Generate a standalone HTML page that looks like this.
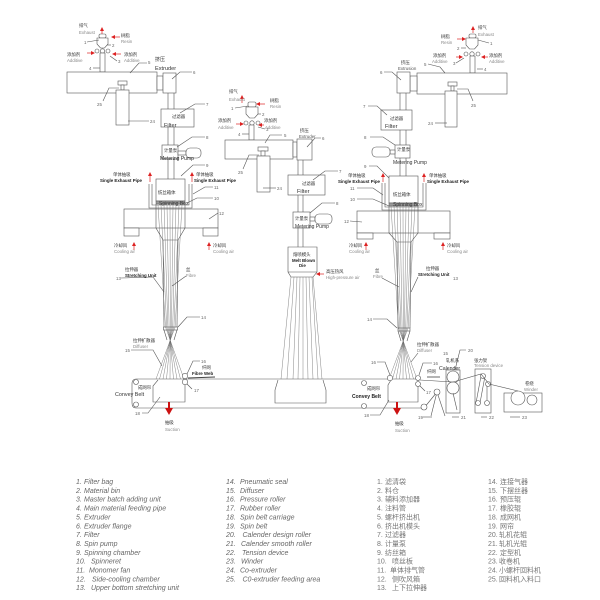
<!DOCTYPE html>
<html><head><meta charset="utf-8"><style>
html,body{margin:0;padding:0;background:#fff;}
svg{display:block;}
.l{stroke:#555;stroke-width:0.6;fill:none;}
.w{stroke:#555;stroke-width:0.6;fill:#fff;}
.fb{stroke:#666;stroke-width:0.4;fill:none;}
text{font-family:"Liberation Sans","Noto Sans CJK SC",sans-serif;}
.c{font-size:4.4px;fill:#333;}
.e{font-size:4.4px;fill:#888;}
.b{font-size:4.4px;fill:#222;font-weight:bold;}
.n{font-size:4.4px;fill:#666;}
.m{font-size:5.6px;fill:#333;}
.lg{font-size:7px;fill:#666;font-style:italic;}
.lc{font-size:7px;fill:#777;}
.ra{stroke:#d22;stroke-width:0.7;fill:none;}
.rb{stroke:#c11;stroke-width:2;fill:none;}
</style></head><body>
<svg width="600" height="600" viewBox="0 0 600 600" xmlns="http://www.w3.org/2000/svg">
<defs>
<marker id="ah" markerWidth="4" markerHeight="4" refX="3" refY="2" orient="auto" markerUnits="userSpaceOnUse"><path d="M0,0 L4,2 L0,4 z" fill="#d22"/></marker>
<marker id="bh" markerWidth="8" markerHeight="8" refX="5" refY="4" orient="auto" markerUnits="userSpaceOnUse"><path d="M0,0 L7,4 L0,8 z" fill="#c11"/></marker>
</defs>
<rect width="600" height="600" fill="#fff"/>

<!-- ================= LEFT UNIT ================= -->
<line class="l" x1="168" y1="93" x2="168" y2="179"/>
<line class="l" x1="174" y1="93" x2="174" y2="179"/>
<rect class="w" x="99" y="34" width="7" height="4" rx="1.5"/>
<path class="w" d="M97,38 L108,38 L108,44 L104.5,48 L100.5,48 L97,44 Z"/>
<circle class="w" cx="97" cy="51" r="2"/><circle class="w" cx="102.5" cy="51" r="2.2"/><circle class="w" cx="108" cy="51" r="2"/>
<rect class="w" x="100" y="53" width="5" height="19"/>
<rect class="w" x="67" y="72" width="90" height="21"/>
<rect class="w" x="157" y="76" width="6" height="14"/>
<rect class="w" x="163" y="73" width="13" height="20"/>
<rect class="w" x="118" y="81" width="9" height="4"/>
<rect class="w" x="121" y="85" width="3" height="5"/>
<rect class="w" x="116" y="90" width="13" height="35"/>
<rect class="w" x="161" y="109" width="33" height="18"/>
<rect class="w" x="162" y="145" width="16" height="14"/>
<rect class="w" x="178" y="151" width="8" height="4"/>
<rect class="w" x="186" y="148" width="15" height="10" rx="4"/>
<path class="l" d="M149,184 L149,208 L192,208 L192,184"/>
<path class="l" d="M152,184 L152,205 L189,205 L189,184"/>
<rect class="w" x="156" y="179" width="29" height="22"/>
<rect x="156" y="201" width="29" height="3" fill="#999" stroke="#555" stroke-width="0.5"/>
<rect class="w" x="124" y="209" width="94" height="19"/>
<rect class="w" x="124" y="228" width="15" height="8"/>
<rect class="w" x="203" y="228" width="15" height="8"/>
<path class="l" d="M156,204 L156,228 L163,240 L178,240 L185,228 L185,204"/>
<line class="l" x1="163" y1="240" x2="164" y2="327"/>
<line class="l" x1="178" y1="240" x2="177" y2="327"/>
<rect class="w" x="163.5" y="327" width="14" height="3"/>
<path class="l" d="M164,330 L167,340 M177,330 L174,340"/>
<g class="fb">
<polyline points="158,205 165.5,327 184,379"/>
<polyline points="161,205 166.7,327 180.5,379"/>
<polyline points="164,205 167.9,327 177,379"/>
<polyline points="167,205 169.1,327 173.5,379"/>
<polyline points="170,205 170.3,327 170,379"/>
<polyline points="173,205 171.5,327 166.5,379"/>
<polyline points="176,205 172.7,327 163,379"/>
<polyline points="179,205 173.9,327 159.5,379"/>
<polyline points="182,205 175.1,327 156,379"/>
</g>

<!-- ================= MIDDLE UNIT ================= -->
<line class="l" x1="298" y1="159" x2="298" y2="247"/>
<line class="l" x1="303" y1="159" x2="303" y2="247"/>
<rect class="w" x="248" y="102" width="8" height="5" rx="1.5"/>
<path class="w" d="M246,107 L258,107 L258,114 L254.5,118 L249.5,118 L246,114 Z"/>
<circle class="w" cx="246" cy="123" r="2"/><circle class="w" cx="252" cy="123" r="2.2"/><circle class="w" cx="258" cy="123" r="2"/>
<rect class="w" x="249" y="125" width="5" height="15"/>
<rect class="w" x="225" y="140" width="68" height="19"/>
<rect class="w" x="293" y="142" width="4" height="15"/>
<rect class="w" x="297" y="139" width="15" height="21"/>
<rect class="w" x="258" y="147" width="10" height="4"/>
<rect class="w" x="261" y="151" width="4" height="5"/>
<rect class="w" x="257" y="156" width="13" height="36"/>
<rect class="w" x="288" y="175" width="37" height="20"/>
<rect class="w" x="293" y="212" width="17" height="16"/>
<rect class="w" x="310" y="217" width="5" height="4"/>
<rect class="w" x="315" y="214" width="17" height="10" rx="4"/>
<path class="w" d="M288,247 L317,247 L317,272 L313,277 L291,277 L288,272 Z"/>
<line class="l" x1="288" y1="272" x2="317" y2="272"/>
<g class="fb">
<line x1="291" y1="277" x2="281" y2="379"/>
<line x1="294" y1="277" x2="287" y2="379"/>
<line x1="297" y1="277" x2="293" y2="379"/>
<line x1="300" y1="277" x2="298" y2="379"/>
<line x1="303" y1="277" x2="303" y2="379"/>
<line x1="306" y1="277" x2="308" y2="379"/>
<line x1="309" y1="277" x2="313" y2="379"/>
<line x1="312" y1="277" x2="318" y2="379"/>
<line x1="313" y1="277" x2="322" y2="379"/>
</g>

<!-- ================= RIGHT UNIT ================= -->
<line class="l" x1="400" y1="93" x2="400" y2="176"/>
<line class="l" x1="406" y1="93" x2="406" y2="176"/>
<rect class="w" x="469" y="34" width="7" height="4" rx="1.5"/>
<path class="w" d="M466,38 L478,38 L478,45 L474.5,49 L469.5,49 L466,45 Z"/>
<circle class="w" cx="466" cy="54" r="2"/><circle class="w" cx="472" cy="54" r="2.2"/><circle class="w" cx="478" cy="54" r="2"/>
<rect class="w" x="470" y="56" width="5" height="17"/>
<rect class="w" x="417" y="73" width="90" height="21"/>
<rect class="w" x="410" y="76" width="7" height="15"/>
<rect class="w" x="397" y="72" width="13" height="21"/>
<rect class="w" x="448" y="82" width="9" height="4"/>
<rect class="w" x="451" y="86" width="3" height="5"/>
<rect class="w" x="445" y="91" width="12" height="36"/>
<rect class="w" x="381" y="110" width="31" height="20"/>
<rect class="w" x="395" y="145" width="15" height="13"/>
<rect class="w" x="390" y="150" width="5" height="4"/>
<rect class="w" x="372" y="147" width="18" height="10" rx="4"/>
<path class="l" d="M382,183 L382,210 L426,210 L426,183"/>
<path class="l" d="M385,183 L385,207 L423,207 L423,183"/>
<rect class="w" x="389" y="176" width="29" height="27"/>
<rect x="389" y="203" width="29" height="3" fill="#999" stroke="#555" stroke-width="0.5"/>
<rect class="w" x="357" y="211" width="93" height="22"/>
<rect class="w" x="357" y="233" width="16" height="6"/>
<rect class="w" x="434" y="233" width="16" height="6"/>
<path class="l" d="M389,206 L389,233 L397,242 L411,242 L418,233 L418,206"/>
<line class="l" x1="397" y1="242" x2="398" y2="328"/>
<line class="l" x1="411" y1="242" x2="410" y2="328"/>
<rect class="w" x="398" y="328" width="12" height="3"/>
<path class="l" d="M398,331 L401,341 M410,331 L407,341"/>
<g class="fb">
<polyline points="391,206 398.5,328 417,379"/>
<polyline points="394,206 399.7,328 413.5,379"/>
<polyline points="397,206 400.9,328 410,379"/>
<polyline points="400,206 402.1,328 406.5,379"/>
<polyline points="403,206 403.3,328 403,379"/>
<polyline points="406,206 404.5,328 399.5,379"/>
<polyline points="409,206 405.7,328 396,379"/>
<polyline points="412,206 406.9,328 392.5,379"/>
<polyline points="415,206 408.1,328 389,379"/>
</g>

<!-- ================= BELT & DOWNSTREAM ================= -->
<line class="l" x1="136" y1="379" x2="418" y2="379"/>
<line class="l" x1="136" y1="408" x2="424" y2="408"/>
<path class="l" d="M136,379 Q132,379 132,384 L132,403 Q132,408 136,408"/>
<circle class="w" cx="136" cy="382" r="2.5"/><circle class="w" cx="136" cy="404.5" r="2.5"/>
<path class="w" d="M158,380 L153,386 L153,402 L185,402 L185,380"/>
<circle class="w" cx="185" cy="376" r="2.7"/><circle class="w" cx="185" cy="382" r="2.7"/>
<line stroke="#444" stroke-width="1" x1="188" y1="378" x2="215" y2="377"/>
<path class="w" d="M278,380 L275,390 L275,403 L326,403 L326,390 L323,380"/>
<circle class="w" cx="364" cy="383" r="2.5"/><circle class="w" cx="364" cy="406" r="2.5"/>
<path class="w" d="M391,380 L388,385 L388,402 L418,402 L418,380"/>
<circle class="w" cx="390" cy="378" r="2.7"/>
<circle class="w" cx="418" cy="378" r="2.5"/><circle class="w" cx="418" cy="384" r="2.5"/>
<line class="l" x1="424" y1="408" x2="437" y2="392"/>
<line class="l" x1="437" y1="392" x2="431" y2="416"/>
<line class="l" x1="437" y1="392" x2="445" y2="416"/>
<circle class="w" cx="437" cy="392" r="3"/><circle class="w" cx="424" cy="407" r="3"/>
<line stroke="#444" stroke-width="0.8" x1="427" y1="377" x2="440" y2="377"/>
<rect class="w" x="446" y="370" width="14" height="43"/>
<circle class="w" cx="453" cy="377" r="6"/><circle class="w" cx="453" cy="388" r="6"/>
<line class="l" x1="453" y1="393" x2="457" y2="410"/>
<rect class="w" x="475" y="369" width="16" height="44"/>
<line class="l" x1="481" y1="376" x2="476" y2="403"/>
<line class="l" x1="485" y1="376" x2="480" y2="403"/>
<line class="l" x1="487" y1="384" x2="487" y2="403"/>
<circle class="w" cx="483" cy="376" r="2.5"/><circle class="w" cx="488" cy="384" r="2.5"/>
<circle class="w" cx="478" cy="403" r="2.5"/><circle class="w" cx="487" cy="403" r="2.5"/>
<rect class="w" x="504" y="393" width="38" height="19"/>
<circle class="w" cx="518" cy="398" r="7"/><circle class="w" cx="532" cy="400" r="5"/>
<polyline class="l" points="420,380 453,382 481,374 489,384 518,391"/>

<!-- red arrows -->
<line class="ra" x1="102" y1="34" x2="102" y2="28" marker-end="url(#ah)"/>
<line class="ra" x1="120" y1="37" x2="112" y2="37" marker-end="url(#ah)"/>
<line class="ra" x1="87" y1="53" x2="94" y2="53" marker-end="url(#ah)"/>
<line class="ra" x1="121" y1="54" x2="113" y2="54" marker-end="url(#ah)"/>
<line class="ra" x1="150" y1="182" x2="150" y2="173" marker-end="url(#ah)"/>
<line class="ra" x1="192" y1="182" x2="192" y2="173" marker-end="url(#ah)"/>
<line class="ra" x1="134" y1="250" x2="134" y2="243" marker-end="url(#ah)"/>
<line class="ra" x1="209" y1="250" x2="209" y2="243" marker-end="url(#ah)"/>
<line class="ra" x1="242" y1="103" x2="242" y2="96" marker-end="url(#ah)"/>
<line class="ra" x1="265" y1="104" x2="257" y2="104" marker-end="url(#ah)"/>
<line class="ra" x1="236" y1="124" x2="243" y2="124" marker-end="url(#ah)"/>
<line class="ra" x1="264" y1="125" x2="259" y2="125" marker-end="url(#ah)"/>
<line class="ra" x1="324" y1="274" x2="317" y2="274" marker-end="url(#ah)"/>
<line class="ra" x1="473" y1="33" x2="473" y2="27" marker-end="url(#ah)"/>
<line class="ra" x1="457" y1="39" x2="465" y2="39" marker-end="url(#ah)"/>
<line class="ra" x1="456" y1="57" x2="462" y2="57" marker-end="url(#ah)"/>
<line class="ra" x1="488" y1="57" x2="482" y2="57" marker-end="url(#ah)"/>
<line class="ra" x1="383" y1="182" x2="383" y2="174" marker-end="url(#ah)"/>
<line class="ra" x1="424" y1="182" x2="424" y2="174" marker-end="url(#ah)"/>
<line class="ra" x1="366" y1="250" x2="366" y2="243" marker-end="url(#ah)"/>
<line class="ra" x1="443" y1="250" x2="443" y2="243" marker-end="url(#ah)"/>
<line class="rb" x1="169" y1="402" x2="169" y2="413" marker-end="url(#bh)"/>
<line class="rb" x1="397" y1="402" x2="397" y2="413" marker-end="url(#bh)"/>

<!-- leader lines -->
<g class="l">
<polyline points="87,42 99,40"/><polyline points="107,45 111,45"/><polyline points="110,56 117,61"/><polyline points="93,68 100,68"/>
<polyline points="130,73 139,63 147,63"/><polyline points="172,79 180,72 192,72"/>
<polyline points="103,101 109,88 119,88"/><polyline points="128,121 149,121"/>
<polyline points="180,113 195,104 205,104"/><polyline points="177,147 192,137 205,137"/><polyline points="181,176 193,165 205,165"/>
<polyline points="193,194 205,187 213,187"/><polyline points="187,203 197,198 213,198"/><polyline points="209,219 218,213"/>
<polyline points="121,278 153,277 164,292"/><polyline points="186,276 172,286"/><polyline points="178,327 187,317 200,317"/>
<polyline points="131,350 153,350 162,366"/><polyline points="187,374 193,361 200,361"/><polyline points="187,384 192,389"/>
<polyline points="142,413 148,413 160,397"/>
<polyline points="235,108 248,106"/><polyline points="258,114 261,114"/><polyline points="258,127 265,129"/><polyline points="242,134 249,134"/>
<polyline points="265,143 270,135 282,135"/><polyline points="307,147 315,138 321,138"/>
<polyline points="243,169 249,155 259,155"/><polyline points="263,188 276,188"/>
<polyline points="313,180 325,171 338,171"/><polyline points="310,213 322,203 335,203"/>
<polyline points="478,40 489,43"/><polyline points="461,48 466,48"/><polyline points="456,63 464,58"/><polyline points="477,69 483,69"/>
<polyline points="428,64 440,67 445,73"/><polyline points="384,72 392,72 401,80"/>
<polyline points="457,89 468,89 473,101"/><polyline points="435,123 447,123"/>
<polyline points="368,106 377,106 387,115"/><polyline points="370,137 383,137 395,145"/><polyline points="369,166 377,166 389,178"/>
<polyline points="357,188 373,188 383,195"/><polyline points="357,199 373,199 389,206"/><polyline points="350,221 362,222"/>
<polyline points="382,278 399,287"/><polyline points="418,277 411,292"/><polyline points="373,319 387,319 397,328"/>
<polyline points="411,362 418,353"/><polyline points="377,362 385,362 390,375"/><polyline points="432,363 423,363 419,375"/>
<polyline points="466,350 460,350 455,370"/><polyline points="420,386 425,391"/>
<polyline points="370,415 380,415 389,400"/><polyline points="423,417 432,417"/>
<polyline points="452,417 459,417"/><polyline points="481,417 487,417"/><polyline points="510,417 520,417"/>
</g>

<!-- ===== LEFT TEXT ===== -->
<text class="c" x="79" y="27">排气</text><text class="e" x="79" y="34">Exhaust</text>
<text class="c" x="121" y="37">树脂</text><text class="e" x="121" y="43">Resin</text>
<text class="n" x="84" y="44">1</text><text class="n" x="112" y="47">2</text>
<text class="c" x="67" y="56">添加剂</text><text class="e" x="67" y="62">Additive</text>
<text class="c" x="124" y="56">添加剂</text><text class="e" x="124" y="62">Additive</text>
<text class="n" x="118" y="63">3</text><text class="n" x="89" y="70">4</text>
<text class="c" x="155" y="61" style="font-size:5px">挤压</text><text class="m" x="155" y="70">Extruder</text>
<text class="n" x="148" y="64">5</text><text class="n" x="193" y="74">6</text>
<text class="n" x="97" y="106">25</text><text class="n" x="150" y="123">24</text>
<text class="c" x="172" y="118">过滤器</text><text class="m" x="164" y="127">Filter</text>
<text class="n" x="206" y="106">7</text>
<text class="c" x="164" y="152">计量泵</text><text class="b" x="160" y="160" style="font-size:5px;font-weight:normal">Metering Pump</text>
<text class="n" x="206" y="139">8</text><text class="n" x="206" y="167">9</text>
<text class="c" x="113" y="176">单体抽吸</text><text class="b" x="100" y="182">Single Exhaust Pipe</text>
<text class="c" x="196" y="176">单体抽吸</text><text class="b" x="194" y="182">Single Exhaust Pipe</text>
<text class="c" x="158" y="194">纺丝箱体</text><text class="c" x="159" y="205" style="font-size:5px">Spinning Box</text>
<text class="n" x="214" y="189">11</text><text class="n" x="214" y="200">10</text><text class="n" x="219" y="215">12</text>
<text class="c" x="114" y="247">冷却风</text><text class="e" x="114" y="253">Cooling air</text>
<text class="c" x="213" y="247">冷却风</text><text class="e" x="213" y="253">Cooling air</text>
<text class="c" x="125" y="271">拉伸器</text><text class="b" x="125" y="277">Stretching Unit</text>
<text class="n" x="116" y="280">13</text>
<text class="c" x="186" y="271">丝</text><text class="e" x="186" y="277">Fibre</text>
<text class="n" x="201" y="319">14</text>
<text class="c" x="133" y="342">拉伸扩散器</text><text class="e" x="133" y="348">Diffuser</text>
<text class="n" x="125" y="352">15</text>
<text class="n" x="201" y="363">16</text>
<text class="c" x="202" y="369">纤网</text><text class="b" x="192" y="375">Fibre Web</text>
<text class="n" x="194" y="392">17</text>
<text class="c" x="138" y="389">成网帘</text><text class="m" x="115" y="396" style="font-size:5.4px">Convey Belt</text>
<text class="n" x="135" y="415">18</text>
<text class="c" x="165" y="424">抽吸</text><text class="e" x="165" y="431">Suction</text>

<!-- ===== MIDDLE TEXT ===== -->
<text class="c" x="229" y="93">排气</text><text class="e" x="229" y="101">Exhaust</text>
<text class="c" x="270" y="102">树脂</text><text class="e" x="270" y="108">Resin</text>
<text class="n" x="231" y="110">1</text><text class="n" x="262" y="116">2</text>
<text class="c" x="218" y="122">添加剂</text><text class="e" x="218" y="129">Additive</text>
<text class="c" x="264" y="122">添加剂</text><text class="e" x="265" y="129">Additive</text>
<text class="n" x="266" y="131">3</text><text class="n" x="238" y="136">4</text>
<text class="c" x="300" y="132">挤压</text><text class="e" x="299" y="138" style="fill:#555">Extruder</text>
<text class="n" x="284" y="137">5</text><text class="n" x="322" y="140">6</text>
<text class="n" x="238" y="174">25</text><text class="n" x="277" y="190">24</text>
<text class="c" x="302" y="185">过滤器</text><text class="m" x="297" y="193">Filter</text>
<text class="n" x="339" y="173">7</text>
<text class="c" x="295" y="220">计量泵</text><text class="c" x="295" y="228" style="font-size:5px">Metering Pump</text>
<text class="n" x="336" y="205">8</text>
<text class="c" x="293" y="256">熔喷模头</text><text class="b" x="292" y="262">Melt Blown</text><text class="b" x="299" y="267">Die</text>
<text class="c" x="326" y="273">高压热风</text><text class="e" x="326" y="279">High-pressure air</text>

<!-- ===== RIGHT TEXT ===== -->
<text class="c" x="478" y="29">排气</text><text class="e" x="478" y="36">Exhaust</text>
<text class="c" x="441" y="38">树脂</text><text class="e" x="441" y="44">Resin</text>
<text class="n" x="490" y="45">1</text><text class="n" x="457" y="50">2</text>
<text class="c" x="433" y="57">添加剂</text><text class="e" x="432" y="63">Additive</text>
<text class="c" x="489" y="57">添加剂</text><text class="e" x="489" y="63">Additive</text>
<text class="n" x="453" y="65">3</text><text class="n" x="484" y="71">4</text>
<text class="c" x="401" y="64">挤压</text><text class="e" x="398" y="70" style="fill:#555">Extrusion</text>
<text class="n" x="424" y="66">5</text><text class="n" x="380" y="74">6</text>
<text class="n" x="471" y="107">25</text><text class="n" x="428" y="125">24</text>
<text class="c" x="390" y="120">过滤器</text><text class="m" x="385" y="128">Filter</text>
<text class="n" x="363" y="108">7</text>
<text class="c" x="397" y="151">计量泵</text><text class="c" x="393" y="164" style="font-size:5px">Metering Pump</text>
<text class="n" x="364" y="139">8</text><text class="n" x="364" y="168">9</text>
<text class="c" x="348" y="177">单体抽吸</text><text class="b" x="338" y="183">Single Exhaust Pipe</text>
<text class="c" x="429" y="177">单体抽吸</text><text class="b" x="427" y="183">Single Exhaust Pipe</text>
<text class="c" x="393" y="196">纺丝箱体</text><text class="c" x="393" y="206" style="font-size:5px">Spinning Box</text>
<text class="n" x="350" y="190">11</text><text class="n" x="350" y="201">10</text><text class="n" x="344" y="223">12</text>
<text class="c" x="349" y="247">冷却风</text><text class="e" x="349" y="253">Cooling air</text>
<text class="c" x="447" y="247">冷却风</text><text class="e" x="447" y="253">Cooling air</text>
<text class="c" x="375" y="272">丝</text><text class="e" x="373" y="278">Fibre</text>
<text class="c" x="426" y="270">拉伸器</text><text class="b" x="418" y="276">Stretching Unit</text>
<text class="n" x="453" y="280">13</text>
<text class="n" x="367" y="321">14</text>
<text class="c" x="417" y="346">拉伸扩散器</text><text class="e" x="417" y="352">Diffuser</text>
<text class="n" x="443" y="355">15</text>
<text class="n" x="371" y="364">16</text><text class="n" x="433" y="365">16</text>
<text class="c" x="427" y="373">纤网</text>
<text class="c" x="446" y="362">轧机系</text><text class="m" x="439" y="370" style="font-size:5.2px">Calender</text>
<text class="n" x="468" y="352">20</text>
<text class="n" x="426" y="394">17</text>
<text class="c" x="474" y="362">张力架</text><text class="e" x="474" y="367">Tension device</text>
<text class="c" x="525" y="385">卷绕</text><text class="e" x="524" y="391">Winder</text>
<text class="c" x="367" y="390">成网帘</text><text class="b" x="352" y="398" style="font-size:5px">Convey Belt</text>
<text class="n" x="364" y="417">18</text>
<text class="c" x="395" y="425">抽吸</text><text class="e" x="395" y="432">Suction</text>
<text class="n" x="418" y="419">19</text><text class="n" x="461" y="419">21</text><text class="n" x="489" y="419">22</text><text class="n" x="522" y="419">23</text>

<!-- ===== LEGEND EN ===== -->
<g class="lg">
<text x="76" y="484">1.</text><text x="84" y="484">Filter bag</text>
<text x="76" y="492.9">2.</text><text x="84" y="492.9">Material bin</text>
<text x="76" y="501.7">3.</text><text x="84" y="501.7">Master batch adding unit</text>
<text x="76" y="510.6">4.</text><text x="84" y="510.6">Main material feeding pipe</text>
<text x="76" y="519.4">5.</text><text x="84" y="519.4">Extruder</text>
<text x="76" y="528.3">6.</text><text x="84" y="528.3">Extruder flange</text>
<text x="76" y="537.1">7.</text><text x="84" y="537.1">Filter</text>
<text x="76" y="546">8.</text><text x="84" y="546">Spin pump</text>
<text x="76" y="554.8">9.</text><text x="84" y="554.8">Spinning chamber</text>
<text x="76" y="563.7">10.</text><text x="91" y="563.7">Spinneret</text>
<text x="76" y="572.5">11.</text><text x="89" y="572.5">Monomer fan</text>
<text x="76" y="581.4">12.</text><text x="92" y="581.4">Side-cooling chamber</text>
<text x="76" y="590.2">13.</text><text x="91" y="590.2">Upper bottom stretching unit</text>
<text x="226" y="484">14.</text><text x="240" y="484">Pneumatic seal</text>
<text x="226" y="492.9">15.</text><text x="240" y="492.9">Diffuser</text>
<text x="226" y="501.7">16.</text><text x="240" y="501.7">Pressure roller</text>
<text x="226" y="510.6">17.</text><text x="240" y="510.6">Rubber roller</text>
<text x="226" y="519.4">18.</text><text x="240" y="519.4">Spin belt carriage</text>
<text x="226" y="528.3">19.</text><text x="240" y="528.3">Spin belt</text>
<text x="226" y="537.1">20.</text><text x="242.5" y="537.1">Calender design roller</text>
<text x="226" y="546">21.</text><text x="241" y="546">Calender smooth roller</text>
<text x="226" y="554.8">22.</text><text x="242" y="554.8">Tension device</text>
<text x="226" y="563.7">23.</text><text x="241" y="563.7">Winder</text>
<text x="226" y="572.5">24.</text><text x="240" y="572.5">Co-extruder</text>
<text x="226" y="581.4">25.</text><text x="242.5" y="581.4">C0-extruder feeding area</text>
</g>
<!-- ===== LEGEND CN ===== -->
<g class="lc">
<text x="377" y="484">1.</text><text x="385" y="484">滤清袋</text>
<text x="377" y="492.9">2.</text><text x="385" y="492.9">料仓</text>
<text x="377" y="501.7">3.</text><text x="385" y="501.7">辅料添加器</text>
<text x="377" y="510.6">4.</text><text x="385" y="510.6">注料管</text>
<text x="377" y="519.4">5.</text><text x="385" y="519.4">螺杆挤出机</text>
<text x="377" y="528.3">6.</text><text x="385" y="528.3">挤出机模头</text>
<text x="377" y="537.1">7.</text><text x="385" y="537.1">过滤器</text>
<text x="377" y="546">8.</text><text x="385" y="546">计量泵</text>
<text x="377" y="554.8">9.</text><text x="385" y="554.8">纺丝箱</text>
<text x="377" y="563.7">10.</text><text x="392" y="563.7">喷丝板</text>
<text x="377" y="572.5">11.</text><text x="390" y="572.5">单体排气管</text>
<text x="377" y="581.4">12.</text><text x="392" y="581.4">侧吹风箱</text>
<text x="377" y="590.2">13.</text><text x="392" y="590.2">上下拉伸器</text>
<text x="488" y="484">14.</text><text x="500" y="484">连接气器</text>
<text x="488" y="492.9">15.</text><text x="500" y="492.9">下摆丝器</text>
<text x="488" y="501.7">16.</text><text x="500" y="501.7">预压辊</text>
<text x="488" y="510.6">17.</text><text x="500" y="510.6">橡胶辊</text>
<text x="488" y="519.4">18.</text><text x="500" y="519.4">成网机</text>
<text x="488" y="528.3">19.</text><text x="500" y="528.3">网帘</text>
<text x="488" y="537.1">20.</text><text x="499" y="537.1">轧机花辊</text>
<text x="488" y="546">21.</text><text x="499" y="546">轧机光辊</text>
<text x="488" y="554.8">22.</text><text x="500" y="554.8">定型机</text>
<text x="488" y="563.7">23.</text><text x="499" y="563.7">收卷机</text>
<text x="488" y="572.5">24.</text><text x="499" y="572.5">小螺杆回料机</text>
<text x="488" y="581.4">25.</text><text x="499" y="581.4">回料机入料口</text>
</g>
</svg>
</body></html>
